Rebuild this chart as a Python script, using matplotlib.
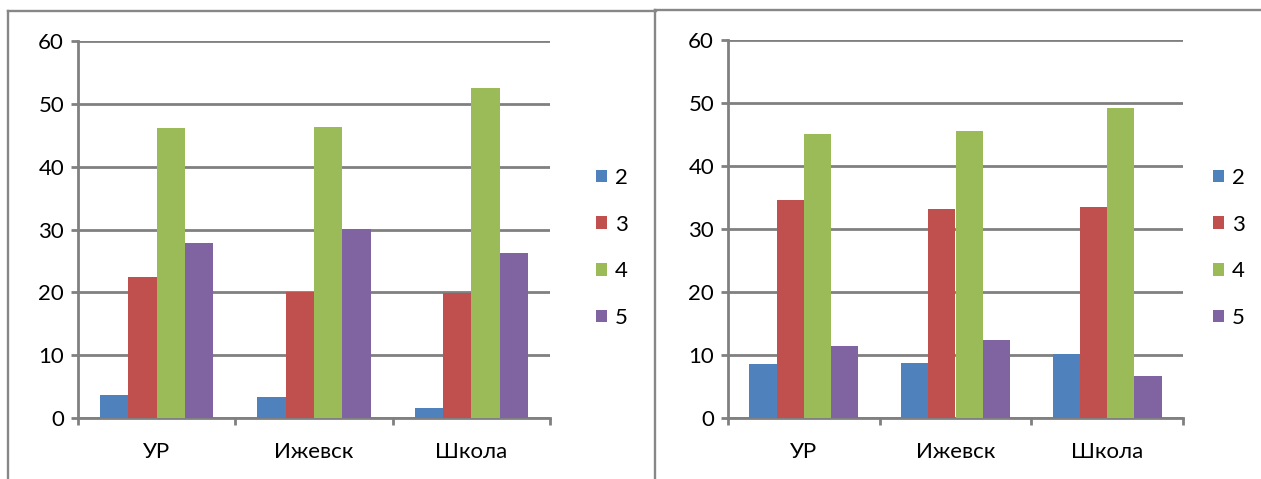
import matplotlib.pyplot as plt
from matplotlib.lines import Line2D
import numpy as np

plt.rcParams['font.family'] = ['Lato', 'DejaVu Sans']

# Data
categories = ['УР', 'Ижевск', 'Школа']
series_names = ['2', '3', '4', '5']
left_values = {
    '2': [3.6, 3.4, 1.6],
    '3': [22.4, 20.1, 19.9],
    '4': [46.1, 46.3, 52.5],
    '5': [27.9, 30.1, 26.2],
}
right_values = {
    '2': [8.5, 8.7, 10.1],
    '3': [34.6, 33.1, 33.5],
    '4': [45.1, 45.5, 49.2],
    '5': [11.5, 12.4, 6.6],
}
y_ticks = [0, 10, 20, 30, 40, 50, 60]

colors = ['#4F81BD', '#C0504D', '#9BBB59', '#8064A2']
grid_color = '#808080'

W, H = 1261, 479
fig = plt.figure(figsize=(W / 100, H / 100), dpi=100)


def px_axes(left, top, right, bottom):
    # axes box from pixel coordinates (origin at top left)
    return fig.add_axes([left / W, (H - bottom) / H, (right - left) / W, (bottom - top) / H])


def draw_chart(ax, values, legend_x):
    x = np.arange(len(categories))
    bar_w = 0.18
    n = len(series_names)
    for i, name in enumerate(series_names):
        offs = (i - (n - 1) / 2) * bar_w
        ax.bar(x + offs, values[name], width=bar_w, color=colors[i],
               label=name, zorder=3)
    ax.set_xlim(-0.5, len(categories) - 0.5)
    ax.set_ylim(0, 60)
    ax.set_yticks(y_ticks)
    ax.yaxis.grid(True, color=grid_color, linewidth=2.0, zorder=0)
    ax.set_axisbelow(True)
    for s in ['top', 'right']:
        ax.spines[s].set_visible(False)
    for s in ['left', 'bottom']:
        ax.spines[s].set_color(grid_color)
        ax.spines[s].set_linewidth(2.0)
    ax.set_xticks(x)
    ax.set_xticklabels(categories)
    ax.set_xticks(np.arange(len(categories) + 1) - 0.5, minor=True)
    ax.tick_params(axis='x', which='major', length=0, pad=17, labelsize=16)
    ax.tick_params(axis='x', which='minor', length=5, width=2.0,
                   color=grid_color, direction='out')
    ax.tick_params(axis='y', length=5, width=2.0, color=grid_color,
                   pad=5, labelsize=16)
    ax.legend(loc='center left', bbox_to_anchor=(legend_x / W, (H - 248) / H),
              bbox_transform=fig.transFigure, frameon=False, fontsize=16,
              handlelength=0.5, handleheight=0.5, handletextpad=0.35,
              labelspacing=1.2, borderpad=0, borderaxespad=0)


ax1 = px_axes(78, 41, 550, 418)
draw_chart(ax1, left_values, 596)

ax2 = px_axes(728, 40, 1183, 418)
draw_chart(ax2, right_values, 1213)

# chart frames
frame_color = '#878787'


def fig_line(xs, ys):
    fig.add_artist(Line2D([v / W for v in xs], [(H - v) / H for v in ys],
                          color=frame_color, linewidth=1.7))


fig_line([8, 656], [11, 11])
fig_line([8, 8], [11, 479])
fig_line([655, 655], [10, 479])
fig_line([655, 1261], [10, 10])

fig.savefig('out.png', dpi=100)
